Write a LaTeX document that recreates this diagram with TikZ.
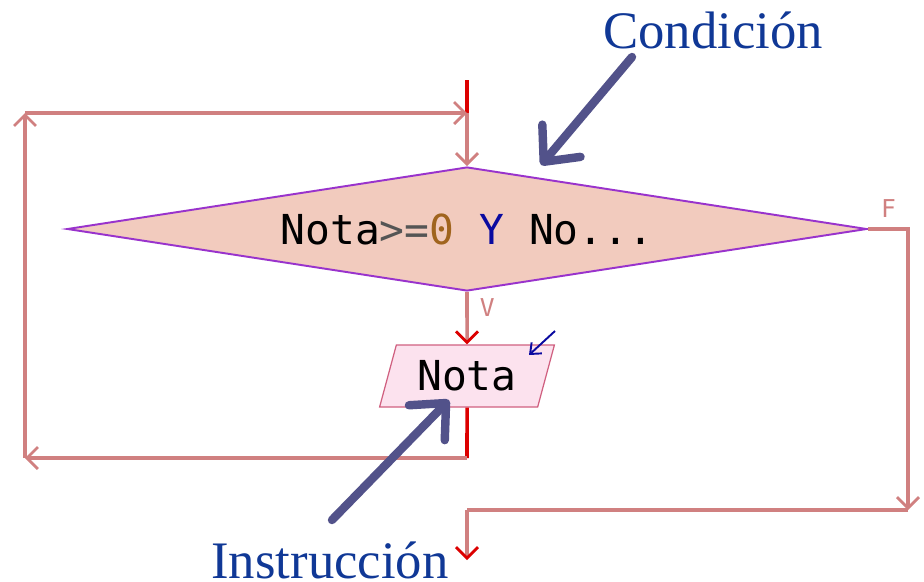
\documentclass[tikz,border=0pt]{standalone}
\usepackage{fontspec}
\setmainfont{Liberation Serif}
\setmonofont{DejaVu Sans Mono}
\usetikzlibrary{arrows.meta,shapes.geometric,positioning}
\definecolor{flowpink}{RGB}{208,128,128}
\definecolor{flowred}{RGB}{220,0,0}
\definecolor{condfill}{RGB}{242,203,190}
\definecolor{condedge}{RGB}{153,51,204}
\definecolor{readfill}{RGB}{252,226,238}
\definecolor{readedge}{RGB}{208,96,128}
\definecolor{callblue}{RGB}{82,82,138}
\definecolor{labelblue}{RGB}{16,56,150}
\definecolor{numbrown}{RGB}{160,100,30}
\definecolor{kwblue}{RGB}{10,10,160}

\begin{document}
\begin{tikzpicture}[
    x=0.02cm, y=-0.02cm,
    condbox/.style={
      diamond, draw=condedge, fill=condfill, line width=1.1pt,
      aspect=6.45, minimum width=16cm, minimum height=2.48cm, inner sep=0pt,
      font=\ttfamily\fontsize{23.5}{27}\selectfont
    },
    readbox/.style={
      trapezium, trapezium left angle=69, trapezium right angle=111,
      trapezium stretches=true,
      draw=readedge, fill=readfill, line width=0.7pt,
      minimum width=3.52cm, minimum height=1.24cm, inner sep=0pt,
      font=\ttfamily\fontsize{23.5}{27}\selectfont
    },
    flow/.style={
      flowpink, line width=2pt,
      -{Straight Barb[length=0.22cm, width=0.44cm, line width=1.6pt]}
    },
    flowplain/.style={flowpink, line width=2pt},
    flowend/.style={
      flowpink, line width=2pt,
      -{Straight Barb[length=0.22cm, width=0.44cm, line width=1.6pt, color=flowred]}
    },
    redline/.style={flowred, line width=2pt},
    branch/.style={
      flowpink, font=\ttfamily\fontsize{14}{16}\selectfont
    },
    callout/.style={
      callblue, line width=4.8pt, line cap=round,
      -{Straight Barb[length=0.55cm, width=1cm, line width=4.8pt, round]}
    },
    calltext/.style={
      labelblue, font=\fontsize{30}{34}\selectfont
    }
  ]
  \useasboundingbox (0,0) rectangle (924,582);

  % --- flowchart ---
  \node[condbox] (cond) at (467,229)
    {Nota\textcolor[RGB]{85,85,85}{>=}\textcolor{numbrown}{0} \textcolor{kwblue}{Y} No...};
  \node[readbox] (read) at (467,376) {Nota};

  \coordinate (entry) at (467,80);
  \coordinate (looptr) at (467,113);
  \coordinate (looptl) at (25,113);
  \coordinate (loopbl) at (25,458);
  \coordinate (loopbr) at (467,458);
  \coordinate (falsetr) at (908,229);
  \coordinate (falsebr) at (908,510);
  \coordinate (falsebl) at (467,510);
  \coordinate (exit) at (467,560);

  \draw[redline] (entry) -- (looptr);
  \draw[flow] (looptr) -- (cond.north);
  \draw[flowend] (cond.south) -- (read.north)
    node[branch, pos=0.3, right=3pt] {V};
  \draw[redline] (read.south) -- (loopbr);
  \draw[flow] (loopbr) -- (loopbl);
  \draw[flow] (loopbl) -- (looptl);
  \draw[flow] (looptl) -- (looptr);

  \draw[flow] (cond.east) -- (falsetr) -- (falsebr);
  \node[branch, above right=3pt and 4pt of cond.east] (flabel) {F};
  \draw[flowplain] (falsebr) -- (falsebl);
  \draw[flowend] (falsebl) -- (exit);

  % small marker on the read box
  \coordinate (marka) at (555,331);
  \coordinate (markb) at (529,355);
  \draw[kwblue, line width=1.1pt, -{Straight Barb[length=0.18cm, width=0.3cm]}] (marka) -- (markb);

  % --- callouts ---
  \node[calltext] (condlbl) at (713,30) {Condición};
  \node[calltext, anchor=base, inner sep=0pt, text depth=0pt] (instlbl) at (330,578) {Instrucción};
  \coordinate (condfrom) at (632,57);
  \coordinate (condto) at (541,165);
  \coordinate (instfrom) at (332,520);
  \coordinate (instto) at (449,400);
  \draw[callout] (condfrom) -- (condto);
  \draw[callout] (instfrom) -- (instto);
\end{tikzpicture}
\end{document}
